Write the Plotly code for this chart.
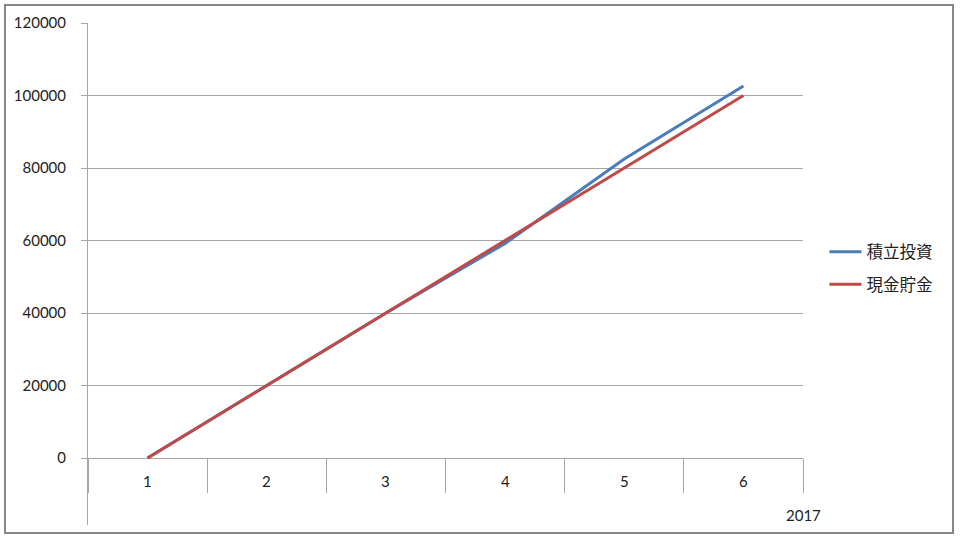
import plotly.graph_objects as go

categories = ["1", "2", "3", "4", "5", "6"]
tsumitate = [0, 20000, 40000, 59200, 82500, 102600]
genkin = [0, 20000, 40000, 60000, 80000, 100000]
series_names = ["積立投資", "現金貯金"]
y_ticks = [0, 20000, 40000, 60000, 80000, 100000, 120000]
x_title = "2017"

BLUE = "#4A7EBB"
RED = "#BE4B48"
GRID = "#A6A6A6"
FONT = "Lato, 'Noto Sans CJK JP', sans-serif"

fig = go.Figure()
fig.add_trace(go.Scatter(x=categories, y=tsumitate, mode="lines", name=series_names[0],
                         legendgroup="a", line=dict(color=BLUE, width=3)))
fig.add_trace(go.Scatter(x=categories, y=genkin, mode="lines", name=series_names[1],
                         legendgroup="b", line=dict(color=RED, width=3)))

# plot area: x 88..803, y 23..525 px; zero line at 458 px
y_top = 120000
px_per_unit = 435 / y_top
y_bottom = -(525 - 458) / px_per_unit
x_axis_pos = (525 - 458) / 502

fig.update_layout(
    width=960, height=540,
    margin=dict(l=88, r=157, t=23, b=15),
    paper_bgcolor="white", plot_bgcolor="white",
    font=dict(family=FONT, size=15, color="#222222"),
    showlegend=True,
    legend=dict(x=1.03, y=0.512, xanchor="left", yanchor="middle",
                font=dict(family="'Noto Sans CJK JP', sans-serif", size=16.5, color="#222222"),
                bgcolor="rgba(0,0,0,0)", itemwidth=32, tracegroupgap=8),
    xaxis=dict(type="category", range=[-0.5, 5.5], anchor="free", position=x_axis_pos,
               showgrid=False, zeroline=False, showline=False,
               ticks="outside", tickson="boundaries", ticklen=34, tickcolor=GRID, tickwidth=1,
               showticklabels=False),
    yaxis=dict(range=[y_bottom, y_top], tickvals=y_ticks, ticktext=[str(v) for v in y_ticks],
               showgrid=True, gridcolor=GRID, gridwidth=1, zeroline=False,
               showline=True, linecolor=GRID, linewidth=1,
               ticks="outside", ticklen=6, tickcolor=GRID,
               ticklabelstandoff=12, tickfont=dict(size=15, color="#222222")),
)

label_y = -(481 - 458) / px_per_unit
for i, c in enumerate(categories):
    fig.add_annotation(x=i, y=label_y, xref="x", yref="y", text=c, showarrow=False,
                       font=dict(size=15, color="#222222"))

fig.add_annotation(x=1.0, y=(525 - 515) / 502, xref="paper", yref="paper", text=x_title,
                   showarrow=False, xanchor="center", yanchor="middle",
                   font=dict(size=15, color="#222222"))

# outer chart frame
fig.add_shape(type="rect", xref="paper", yref="paper",
              x0=(5 - 88) / 715, x1=(953 - 88) / 715,
              y0=(525 - 533) / 502, y1=(525 - 5) / 502,
              line=dict(color="#868686", width=2), fillcolor="rgba(0,0,0,0)", layer="below")

fig.write_html("out.html", config={"displayModeBar": False},
               post_script="document.body.style.margin='0';document.body.style.overflow='hidden';")
